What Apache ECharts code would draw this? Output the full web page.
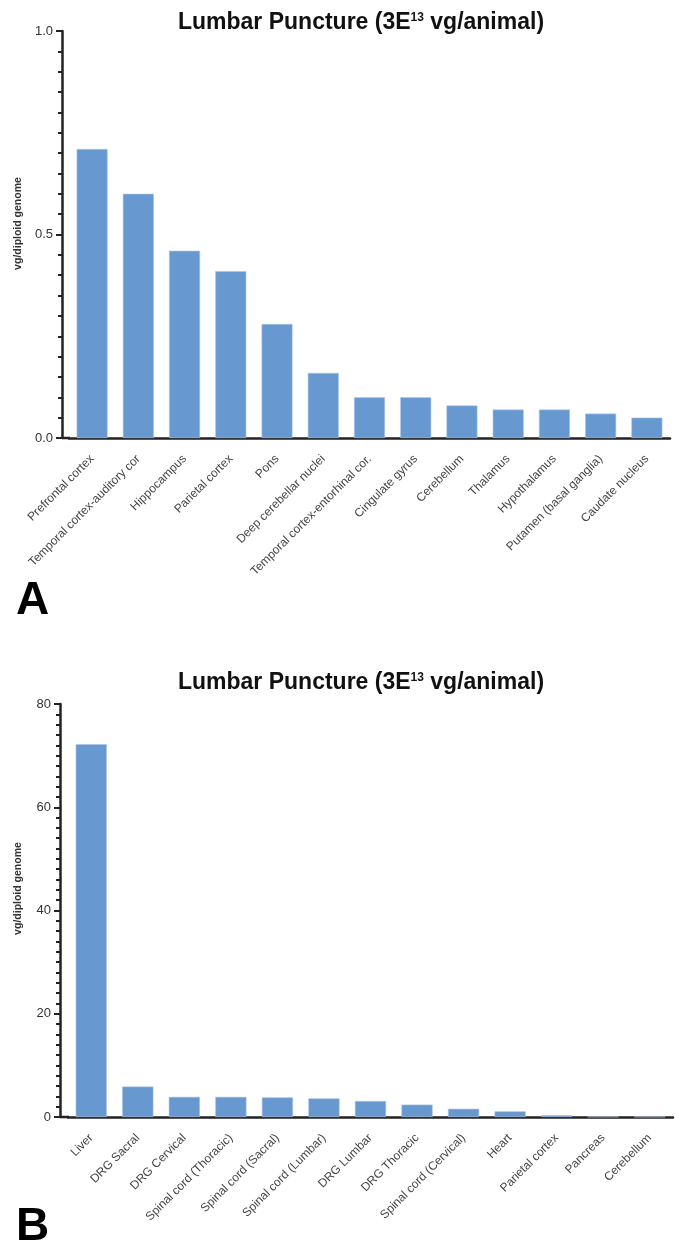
<!DOCTYPE html>
<html>
<head>
<meta charset="utf-8">
<script src="https://cdn.jsdelivr.net/npm/echarts@6/dist/echarts.min.js"></script>
<style>
html,body{margin:0;padding:0;background:#fff;}
#c{width:675px;height:1245px;}
</style>
</head>
<body>
<div id="c"></div>
<script>
const titleText = 'Lumbar Puncture (3E';
const titleSup = '13';
const titleEnd = ' vg/animal)';
const yName = 'vg/diploid genome';

const catsA = ['Prefrontal cortex','Temporal cortex-auditory cor','Hippocampus','Parietal cortex','Pons','Deep cerebellar nuclei','Temporal cortex-entorhinal cor.','Cingulate gyrus','Cerebellum','Thalamus','Hypothalamus','Putamen (basal ganglia)','Caudate nucleus'];
const valsA = [0.71, 0.60, 0.46, 0.41, 0.28, 0.16, 0.10, 0.10, 0.08, 0.07, 0.07, 0.06, 0.05];
const ticksA = {min: 0, max: 1.0, interval: 0.5};

const catsB = ['Liver','DRG Sacral','DRG Cervical','Spinal cord (Thoracic)','Spinal cord (Sacral)','Spinal cord (Lumbar)','DRG Lumbar','DRG Thoracic','Spinal cord (Cervical)','Heart','Parietal cortex','Pancreas','Cerebellum'];
const valsB = [72.2, 5.9, 3.9, 3.9, 3.8, 3.6, 3.1, 2.4, 1.6, 1.1, 0.35, 0.05, 0.03];
const ticksB = {min: 0, max: 80, interval: 20};

const FONT = '"Liberation Sans", Arial, sans-serif';
const AX = '#222';
const BAR = '#6798d0';

function xAxisCfg(gi, cats){
  return {
    type: 'category', gridIndex: gi, data: cats,
    axisLine: {lineStyle: {color: AX, width: 2.5}},
    axisTick: {alignWithLabel: true, interval: 0, length: 6, lineStyle: {color: AX, width: 2}},
    axisLabel: {interval: 0, rotate: 45, fontSize: 12, color: '#444', fontFamily: FONT, margin: 19}
  };
}
function yAxisCfg(gi, t, fmt, offset, shift){
  return {
    type: 'value', gridIndex: gi, min: t.min, max: t.max, interval: t.interval,
    offset: offset,
    name: yName, nameLocation: 'middle', nameGap: 36,
    nameTextStyle: {fontSize: 10.5, fontWeight: 'bold', color: '#333', fontFamily: FONT, padding: [0, 0, 0, shift]},
    axisLine: {show: true, lineStyle: {color: AX, width: 2.5}},
    axisTick: {show: true, length: 6, lineStyle: {color: AX, width: 2}},
    minorTick: {show: true, splitNumber: 10, length: 4, lineStyle: {color: AX, width: 2}},
    splitLine: {show: false},
    axisLabel: {fontSize: 13, color: '#333', fontFamily: FONT, margin: 9, formatter: fmt}
  };
}
function titleCfg(top){
  return {
    text: '{t|' + titleText + '}{s|' + titleSup + '}{t|' + titleEnd + '}',
    left: 356, top: top, textAlign: 'center',
    textStyle: {
      rich: {
        t: {fontSize: 23, fontWeight: 'bold', color: '#111', fontFamily: FONT},
        s: {fontSize: 12, fontWeight: 'bold', color: '#111', fontFamily: FONT, padding: [0,0,10,0]}
      }
    }
  };
}

const chart = echarts.init(document.getElementById('c'), null, {renderer: 'canvas'});
const option = {
  animation: false,
  backgroundColor: '#fff',
  title: [titleCfg(6), titleCfg(666)],
  grid: [
    {left: 69, right: 5, top: 31, bottom: 807},
    {left: 68, right: 2, top: 704, bottom: 128}
  ],
  xAxis: [xAxisCfg(0, catsA), xAxisCfg(1, catsB)],
  yAxis: [
    yAxisCfg(0, ticksA, v => v.toFixed(1), 7, 22),
    yAxisCfg(1, ticksB, v => String(v), 8, 44)
  ],
  series: [
    {type: 'bar', xAxisIndex: 0, yAxisIndex: 0, data: valsA, barWidth: '67%',
     itemStyle: {color: BAR, borderColor: '#a9c4e6', borderWidth: 0.6}},
    {type: 'bar', xAxisIndex: 1, yAxisIndex: 1, data: valsB, barWidth: '67%',
     itemStyle: {color: BAR, borderColor: '#a9c4e6', borderWidth: 0.6}}
  ],
  graphic: [
    {type: 'text', left: 16, top: 578, style: {text: 'A', fontSize: 46, fontWeight: 'bold', fill: '#000', fontFamily: FONT}},
    {type: 'text', left: 16, top: 1204, style: {text: 'B', fontSize: 46, fontWeight: 'bold', fill: '#000', fontFamily: FONT}}
  ]
};
chart.setOption(option);

// extend x-axis baselines left to meet the offset y-axes
const ext = [];
[[0, catsA, 7], [1, catsB, 8]].forEach(([gi, cats, off]) => {
  const p = chart.convertToPixel({gridIndex: gi}, [cats[0], 0]);
  const gridLeft = option.grid[gi].left;
  ext.push({type: 'line', shape: {x1: gridLeft - off, y1: p[1], x2: gridLeft + 1, y2: p[1]},
            style: {stroke: AX, lineWidth: 2.5}, z: 100});
});
chart.setOption({graphic: option.graphic.concat(ext)});
</script>
</body>
</html>
